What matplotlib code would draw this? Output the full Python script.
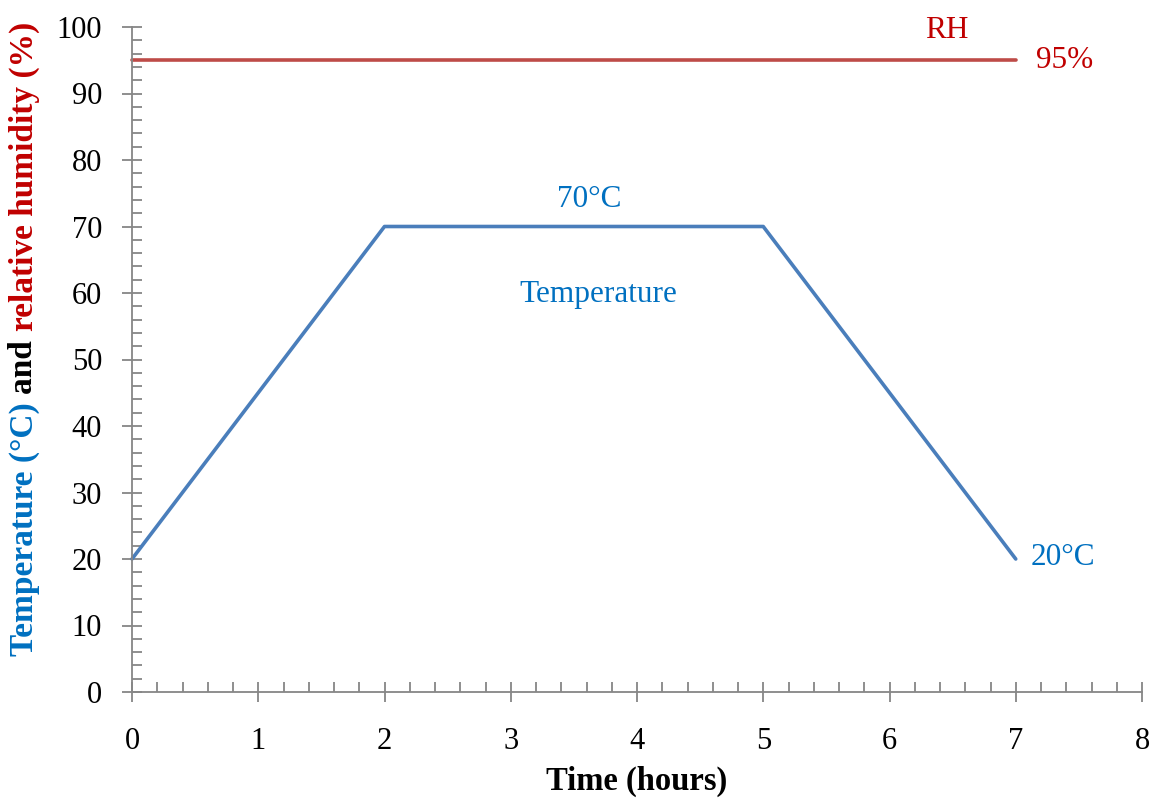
import matplotlib
matplotlib.use("Agg")
import matplotlib.pyplot as plt
from matplotlib.ticker import MultipleLocator

plt.rcParams['font.family'] = ['Liberation Serif', 'DejaVu Serif']

time_hours = [0, 2, 5, 7]
temperature = [20, 70, 70, 20]
rh_time = [0, 7]
rh_values = [95, 95]

BLUE_LINE = '#4a7ebb'
RED_LINE = '#be4b48'
BLUE_TXT = '#0070c0'
RED_TXT = '#c00000'
GRAY = '#868686'

fig = plt.figure(figsize=(11.54, 7.99), dpi=100)
ax = fig.add_axes([132/1154, 1-692/799, (1142-132)/1154, (692-27)/799])

ax.plot(time_hours, temperature, color=BLUE_LINE, lw=2.6, solid_capstyle='round', clip_on=False)
ax.plot(rh_time, rh_values, color=RED_LINE, lw=2.6, solid_capstyle='round', clip_on=False)

ax.set_xlim(0, 8)
ax.set_ylim(0, 100)
ax.xaxis.set_major_locator(MultipleLocator(1))
ax.xaxis.set_minor_locator(MultipleLocator(0.2))
ax.yaxis.set_major_locator(MultipleLocator(10))
ax.yaxis.set_minor_locator(MultipleLocator(2))

for s in ['top', 'right']:
    ax.spines[s].set_visible(False)
for s in ['left', 'bottom']:
    ax.spines[s].set_color(GRAY)
    ax.spines[s].set_linewidth(1.3)

ax.tick_params(which='major', direction='inout', length=15, width=1.3, color=GRAY,
               labelsize=22, labelcolor='black')
ax.tick_params(which='minor', direction='in', length=7, width=1.3, color=GRAY)
ax.tick_params(axis='y', which='major', pad=14)
ax.tick_params(axis='x', which='major', pad=18)

ax.set_xlabel('Time (hours)', fontsize=23.5, fontweight='bold', labelpad=7)

fs = 22.5
ax.text(6.45, 99.4, 'RH', color=RED_TXT, fontsize=fs, ha='center', va='center')
ax.text(7.39, 95, '95%', color=RED_TXT, fontsize=fs, ha='center', va='center')
ax.text(3.62, 74.1, '70°C', color=BLUE_TXT, fontsize=fs, ha='center', va='center')
ax.text(3.69, 59.7, 'Temperature', color=BLUE_TXT, fontsize=fs, ha='center', va='center')
ax.text(7.37, 20.3, '20°C', color=BLUE_TXT, fontsize=fs, ha='center', va='center')

# multicolour y-label
parts = [('Temperature (°C) ', BLUE_TXT), ('and ', 'black'), ('relative humidity (%)', RED_TXT)]
fig.canvas.draw()
renderer = fig.canvas.get_renderer()
xpos = 24 / 1154
texts = []
for s, c in parts:
    t = fig.text(xpos, 0, s, rotation=90, color=c, fontsize=24, fontweight='bold',
                 ha='center', va='bottom', rotation_mode='anchor')
    texts.append(t)
heights = []
for t in texts:
    bb = t.get_window_extent(renderer)
    heights.append(bb.height)
total = sum(heights)
center = 1 - 339 / 799
y = center - total / 2 / fig.bbox.height
for t, h in zip(texts, heights):
    t.set_position((xpos, y))
    t.set_va('center')
    t.set_ha('left')
    y += h / fig.bbox.height

fig.savefig('out.png', dpi=100)
